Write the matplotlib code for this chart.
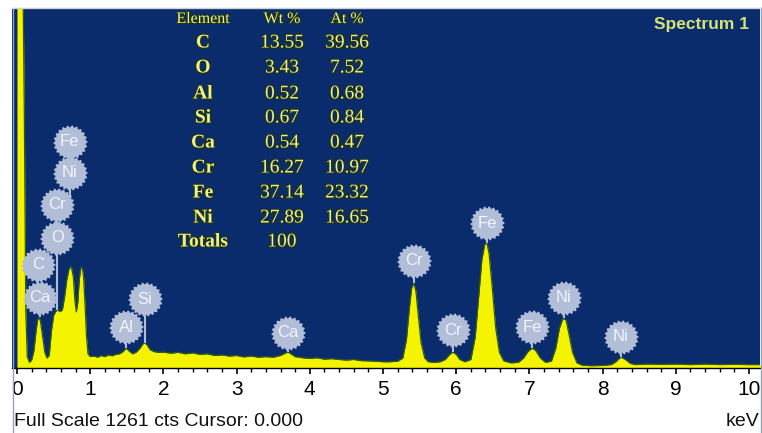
import numpy as np
import matplotlib
matplotlib.use("Agg")
import matplotlib.pyplot as plt
from matplotlib.path import Path
from matplotlib.lines import Line2D
import matplotlib.patheffects as pe

# ---- spectrum (energy in keV, counts) ----
energy_kev = [
    0.00, 0.04, 0.08, 0.10, 0.12, 0.14, 0.17, 0.20, 0.23, 0.26, 0.28, 0.30,
    0.32, 0.35, 0.38, 0.41, 0.44, 0.47, 0.50, 0.53, 0.56, 0.59, 0.62, 0.65,
    0.68, 0.71, 0.74, 0.77, 0.79, 0.81, 0.83, 0.85, 0.87, 0.89, 0.91, 0.93,
    0.95, 0.97, 1.00, 1.05, 1.10, 1.15, 1.20, 1.25, 1.30, 1.35, 1.40, 1.45,
    1.49, 1.53, 1.58, 1.63, 1.68, 1.72, 1.75, 1.78, 1.82, 1.87, 1.93, 2.00,
    2.10, 2.20, 2.30, 2.40, 2.50, 2.60, 2.70, 2.80, 2.90, 3.00, 3.10, 3.20,
    3.30, 3.40, 3.50, 3.60, 3.66, 3.70, 3.74, 3.80, 3.90, 4.00, 4.10, 4.20,
    4.30, 4.40, 4.50, 4.60, 4.70, 4.80, 4.90, 5.00, 5.10, 5.20, 5.27, 5.32,
    5.36, 5.39, 5.42, 5.45, 5.48, 5.52, 5.57, 5.62, 5.70, 5.78, 5.85, 5.90,
    5.95, 6.00, 6.05, 6.12, 6.20, 6.26, 6.31, 6.35, 6.39, 6.42, 6.45, 6.49,
    6.54, 6.59, 6.65, 6.75, 6.85, 6.92, 6.98, 7.04, 7.09, 7.15, 7.22, 7.30,
    7.36, 7.41, 7.46, 7.50, 7.54, 7.59, 7.65, 7.72, 7.85, 8.00, 8.12, 8.18,
    8.25, 8.31, 8.38, 8.45, 8.60, 8.80, 9.00, 9.20, 9.40, 9.60, 9.80, 10.00,
    10.15,
]
counts = [
    1400, 1400, 1400, 900, 200, 40, 20, 28, 60, 130, 168, 179,
    165, 110, 55, 35, 45, 130, 185, 200, 204, 198, 205, 250,
    310, 348, 358, 320, 240, 197, 230, 310, 350, 354, 320, 220,
    110, 50, 40, 42, 38, 44, 40, 46, 43, 48, 50, 58,
    70, 60, 50, 56, 70, 85, 89, 80, 64, 58, 55, 56,
    52, 55, 50, 53, 48, 50, 44, 46, 42, 44, 39, 42,
    38, 40, 38, 44, 52, 56, 50, 40, 36, 34, 36, 31,
    33, 30, 28, 30, 26, 25, 24, 22, 22, 24, 35, 100,
    210, 280, 298, 270, 190, 90, 35, 22, 20, 22, 30, 45,
    56, 48, 30, 22, 30, 110, 260, 380, 435, 439, 400, 290,
    140, 55, 25, 18, 20, 35, 58, 70, 60, 35, 20, 24,
    70, 140, 175, 168, 120, 55, 18, 10, 8, 9, 12, 22,
    39, 30, 16, 12, 14, 13, 14, 12, 14, 12, 13, 12,
    12,
]
full_scale = 1261

# ---- peak markers: element, energy, label height, stem end height ----
peak_elements = ["Ca", "C", "O", "Cr", "Ni", "Fe", "Al", "Si", "Ca",
                 "Cr", "Cr", "Fe", "Fe", "Ni", "Ni"]
peak_energy = [0.31, 0.29, 0.55, 0.55, 0.72, 0.72, 1.49, 1.75, 3.70,
               5.42, 5.95, 6.42, 7.04, 7.47, 8.25]
label_height = [246, 362, 457, 573, 685, 794, 144, 242, 123,
                376, 133, 509, 144, 246, 109]
stem_end = [179, 246, 204, 457, 573, 685, 70, 89, 56,
            298, 56, 439, 70, 175, 39]

# ---- quantification table ----
table_elements = ["C", "O", "Al", "Si", "Ca", "Cr", "Fe", "Ni"]
weight_pct = ["13.55", "3.43", "0.52", "0.67", "0.54", "16.27", "37.14", "27.89"]
atomic_pct = ["39.56", "7.52", "0.68", "0.84", "0.47", "10.97", "23.32", "16.65"]
total_wt = "100"

x_ticks = list(range(0, 11))

# ---- figure ----
W, H = 762, 433
fig = plt.figure(figsize=(W / 100, H / 100), dpi=100, facecolor="white")
px_left, px_right, px_top, px_bottom = 12, 760, 9, 368
ax = fig.add_axes([px_left / W, 1 - px_bottom / H,
                   (px_right - px_left) / W, (px_bottom - px_top) / H])
ax.set_facecolor("#0b2c6c")
ax.set_xlim((px_left - 17) / 73.2, (px_right - 17) / 73.2)
ax.set_ylim(0, full_scale)

ax.fill_between(energy_kev, counts, 0, color="#f4f400", lw=0, zorder=2)
ax.plot(energy_kev, counts, color="#2f5a1c", lw=0.9, zorder=3)

# gear-shaped marker for the peak labels
n_teeth = 22
ang = np.linspace(0, 2 * np.pi, n_teeth * 4, endpoint=False)
rad = np.where((np.arange(ang.size) // 2) % 2 == 0, 1.0, 0.9)
verts = np.column_stack([rad * np.cos(ang), rad * np.sin(ang)])
verts = np.vstack([verts, verts[:1]])
codes = [Path.MOVETO] + [Path.LINETO] * (len(verts) - 2) + [Path.CLOSEPOLY]
gear = Path(verts, codes)

label_color = "#b2bdd7"
for el, e, ly, se in zip(peak_elements, peak_energy, label_height, stem_end):
    ax.plot([e, e], [se, ly], color=label_color, lw=1.5, zorder=4,
            solid_capstyle="butt")
ax.scatter(peak_energy, label_height, s=24.5 ** 2, marker=gear,
           color=label_color, lw=0, zorder=5)
for el, e, ly in zip(peak_elements, peak_energy, label_height):
    ax.text(e, ly, el, ha="center", va="center", fontsize=12,
            family="Liberation Sans", color="#f2f5fc", zorder=6)

# axis styling
for side in ("top", "left", "right"):
    ax.spines[side].set_visible(False)
ax.spines["bottom"].set_color("black")
ax.spines["bottom"].set_linewidth(1.0)
ax.set_yticks([])
ax.set_xticks(x_ticks)
ax.set_xticks(np.arange(0, 10.01, 0.2), minor=True)
ax.tick_params(axis="x", which="major", direction="out", length=4.5,
               width=1.2, color="black", pad=4, labelsize=15)
ax.tick_params(axis="x", which="minor", direction="out", length=3,
               width=1.0, color="black")
for lab in ax.get_xticklabels():
    lab.set_family("Liberation Sans")

# quantification table
tcol = "#eef08a"
stroke = [pe.withStroke(linewidth=1.8, foreground="#1d3320")]
col_x = [203, 282, 347]
row_y = [43, 68, 94, 118, 143, 168, 193, 218]


def fig_text(px, py, s, size, **kw):
    fig.text(px / W, 1 - py / H, s, ha="center", va="center",
             fontsize=size, color=tcol, family="Liberation Serif",
             path_effects=stroke, **kw)


fig_text(col_x[0], 19, "Element", 11.5)
fig_text(col_x[1], 19, "Wt %", 11.5)
fig_text(col_x[2], 19, "At %", 11.5)
for el, wt, at, ry in zip(table_elements, weight_pct, atomic_pct, row_y):
    fig_text(col_x[0], ry, el, 14, fontweight="bold")
    fig_text(col_x[1], ry, wt, 14)
    fig_text(col_x[2], ry, at, 14)
fig_text(col_x[0], 242, "Totals", 14, fontweight="bold")
fig_text(col_x[1], 242, total_wt, 14)

fig.text(702 / W, 1 - 24 / H, "Spectrum 1", ha="center", va="center",
         fontsize=12.5, fontweight="bold", color="#d6e274",
         family="Liberation Sans")

# footer
fig.text(14 / W, 1 - 422 / H, "Full Scale 1261 cts Cursor: 0.000",
         ha="left", va="center", fontsize=14, family="Liberation Sans",
         color="#111111")
fig.text(759 / W, 1 - 422 / H, "keV", ha="right", va="center",
         fontsize=14, family="Liberation Sans", color="#111111")

# thin frame lines
fig.add_artist(Line2D([12.5 / W, 12.5 / W], [0, 1 - 8 / H],
                      color="#8fa3c0", lw=1.0))
fig.add_artist(Line2D([760.5 / W, 760.5 / W], [0, 1 - 8 / H],
                      color="#8fa3c0", lw=1.0))
fig.add_artist(Line2D([12.5 / W, 760.5 / W], [1 - 8 / H, 1 - 8 / H],
                      color="#c9d2de", lw=1.0))

fig.savefig("out.png", dpi=100, facecolor="white")
